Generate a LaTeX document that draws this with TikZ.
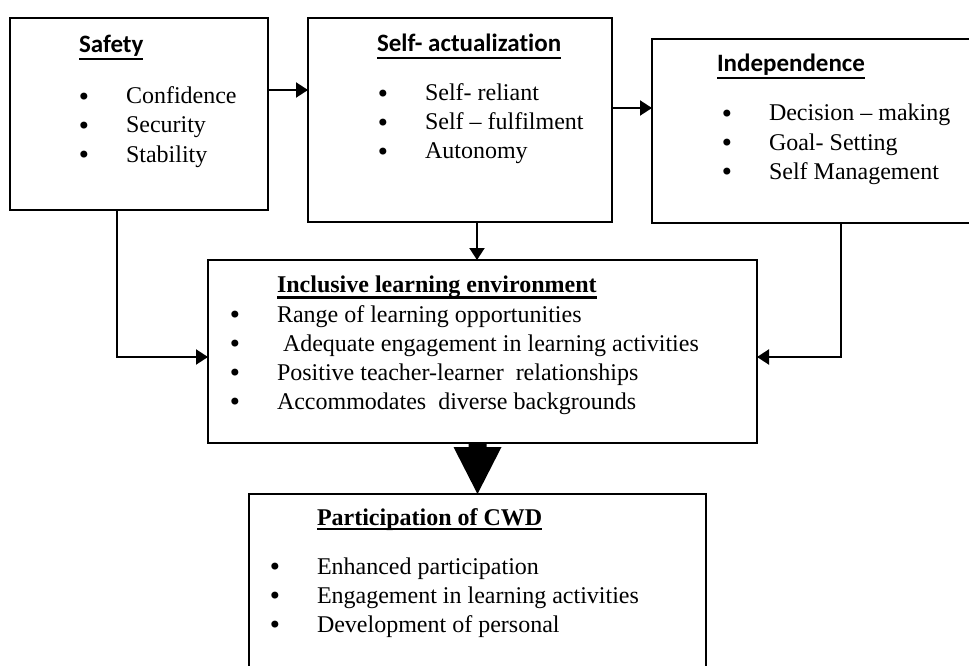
\documentclass[tikz,border=0pt]{standalone}
\usepackage{fontspec}
\setmainfont{Liberation Serif}
\newfontfamily\headsans[RawFeature=-liga]{Carlito}
\newfontfamily\bulfont{DejaVu Sans}
\usetikzlibrary{arrows.meta}

% underlined heading: rule drawn at a given depth below the baseline
\newcommand\ulhead[3]{\setbox0\hbox{#3}\rlap{\rule[-#1]{\wd0}{#2}}\box0}
% bulleted list line: the bullet hangs to the left of the text start
\newcommand\itm[1]{\llap{\raisebox{-1.5pt}{\bulfont •}\hspace{34.9pt}}#1}

\tikzset{
  box/.style={draw, line width=2pt, rectangle, anchor=north west, inner sep=0pt, outer sep=0pt},
  item/.style={anchor=base west, inner sep=0pt, outer sep=0pt, font=\fontsize{24}{29}\selectfont},
  shead/.style={anchor=base west, inner sep=0pt, outer sep=0pt, font=\headsans\bfseries\fontsize{25}{30}\selectfont},
  thead/.style={anchor=base west, inner sep=0pt, outer sep=0pt, font=\bfseries\fontsize{24}{29}\selectfont},
  arr/.style={line width=2pt, -{Triangle[length=12pt,width=15pt]}},
}

\begin{document}
\begin{tikzpicture}[x=1pt,y=-1pt]
\useasboundingbox (0,0) rectangle (969,666);
\clip (0,0) rectangle (969,666);

% boxes
\node[box, minimum width=258pt, minimum height=192pt] (safety)  at (10,18)  {};
\node[box, minimum width=304pt, minimum height=204pt] (selfact) at (308,18) {};
\node[box, minimum width=330pt, minimum height=184pt] (indep)   at (652,39) {};
\node[box, minimum width=549pt, minimum height=183pt] (incl)    at (208,260) {};
\node[box, minimum width=457pt, minimum height=200pt] (part)    at (249,494) {};

% Safety
\node[shead] (safetyT) at (79,53) {\ulhead{7pt}{2pt}{Safety}};
\node[item] (s1) at (126,104) {\itm{Confidence}};
\node[item] (s2) at (126,133) {\itm{Security}};
\node[item] (s3) at (126,162) {\itm{Stability}};

% Self-actualization
\node[shead] (selfactT) at (377,52) {\ulhead{7pt}{2pt}{Self- actualization}};
\node[item] (a1) at (425,101) {\itm{Self- reliant}};
\node[item] (a2) at (425,130) {\itm{Self – fulfilment}};
\node[item] (a3) at (425,159) {\itm{Autonomy}};

% Independence
\node[shead] (indepT) at (717,72) {\ulhead{7pt}{2pt}{Independence}};
\node[item] (d1) at (769,121) {\itm{Decision – making}};
\node[item] (d2) at (769,150) {\itm{Goal- Setting}};
\node[item] (d3) at (769,179) {\itm{Self Management}};

% Inclusive learning environment
\node[thead] (inclT) at (277,292) {\ulhead{6.5pt}{3pt}{Inclusive learning environment}};
\node[item] (e1) at (277,322) {\itm{Range of learning opportunities}};
\node[item] (e2) at (277,351) {\itm{\ Adequate engagement in learning activities}};
\node[item] (e3) at (277,380) {\itm{Positive teacher-learner\ \ relationships}};
\node[item] (e4) at (277,409) {\itm{Accommodates\ \ diverse backgrounds}};

% Participation of CWD
\node[thead] (partT) at (317,525) {\ulhead{5pt}{2.5pt}{Participation of CWD}};
\node[item] (p1) at (317,574) {\itm{Enhanced participation}};
\node[item] (p2) at (317,603) {\itm{Engagement in learning activities}};
\node[item] (p3) at (317,632) {\itm{Development of personal}};

% routing points for the connectors
\coordinate (r1) at (0,90);
\coordinate (r2) at (0,108);
\coordinate (r3) at (117,357);
\coordinate (r4) at (477,0);
\coordinate (r5) at (841,357);

\draw[arr] (safety.east |- r1) -- (selfact.west |- r1);
\draw[arr] (selfact.east |- r2) -- (indep.west |- r2);
\draw[arr] (safety.south -| r3) -- (r3) -- (incl.west |- r3);
\draw[arr] (selfact.south -| r4) -- (incl.north -| r4);
\draw[arr] (indep.south -| r5) -- (r5) -- (incl.east |- r5);

% block arrow into the participation box
\fill ([xshift=-9pt]part.north |- incl.south) -- ++(0,4) -- ++(-15,0)
  -- (part.north) -- ([xshift=24pt,yshift=-4pt]part.north |- incl.south)
  -- ++(-15,0) -- ([xshift=9pt]part.north |- incl.south) -- cycle;
\end{tikzpicture}
\end{document}
